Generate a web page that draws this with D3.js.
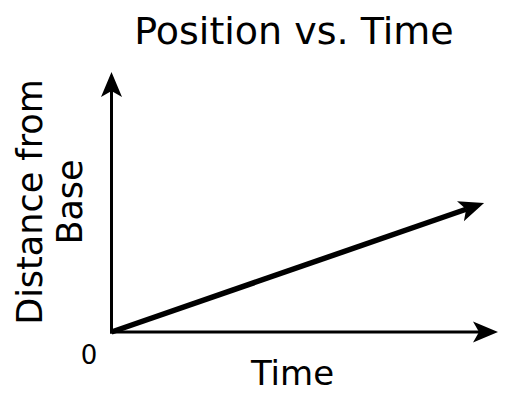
<!doctype HTML>
<html>
<head>
  <script type="text/javascript" src="https://d3js.org/d3.v7.min.js"></script>
  <style>
    body { margin: 0; background: #fff; }
    text { font-family: "DejaVu Sans", sans-serif; fill: #000; }
  </style>
</head>
<body>
<div id="chart"></div>
<script>

// chart content
var title = "Position vs. Time";
var xLabel = "Time";
var yLabel = ["Distance from", "Base"];
var tickLabels = ["0"];
var timeVals = [0, 9.64];
var distVals = [0, 4.96];

var width = 518,
  height = 408;

var svg = d3.select("#chart").append("svg")
  .attr("width", width).attr("height", height);

var x = d3.scaleLinear().domain([0, 10]).range([111.5, 498]);
var y = d3.scaleLinear().domain([0, 10]).range([332, 72]);

// arrowhead, tip at (0,0) pointing +x
var L = 25, W = 21, N = 6;
function head(tx, ty, angle) {
  svg.append("path")
    .attr("d", "M0,0 L" + (-L) + "," + (-W / 2) + " L" + (-L + N) + ",0 L" + (-L) + "," + (W / 2) + "Z")
    .attr("transform", "translate(" + tx + "," + ty + ") rotate(" + angle + ")")
    .attr("fill", "#000");
}

function arrow(x0, y0, x1, y1, sw) {
  var a = Math.atan2(y1 - y0, x1 - x0);
  var back = L - N;
  svg.append("line")
    .attr("x1", x0).attr("y1", y0)
    .attr("x2", x1 - back * Math.cos(a)).attr("y2", y1 - back * Math.sin(a))
    .attr("stroke", "#000").attr("stroke-width", sw);
  head(x1, y1, a * 180 / Math.PI);
}

// axes
arrow(x(0), y(0) + 1.5, x(0), y(10), 3);
arrow(x(0) - 1.5, y(0), x(10), y(0), 3);

// position line
arrow(x(timeVals[0]), y(distVals[0]), x(timeVals[1]), y(distVals[1]), 5.5);

svg.append("text")
  .attr("x", 89).attr("y", 364)
  .attr("text-anchor", "middle")
  .style("font-size", "26px")
  .text(tickLabels[0]);

svg.append("text")
  .attr("x", 294).attr("y", 44)
  .attr("text-anchor", "middle")
  .style("font-size", "38px")
  .text(title);

svg.append("text")
  .attr("x", 292.5).attr("y", 385)
  .attr("text-anchor", "middle")
  .style("font-size", "34px")
  .text(xLabel);

var yl = svg.append("text")
  .attr("transform", "translate(42,202) rotate(-90)")
  .attr("text-anchor", "middle")
  .style("font-size", "35px");
yl.selectAll("tspan").data(yLabel).enter().append("tspan")
  .attr("x", 0)
  .attr("dy", function(d, i) { return i === 0 ? 0 : 40; })
  .text(function(d) { return d; });

</script>
</body>
</html>
